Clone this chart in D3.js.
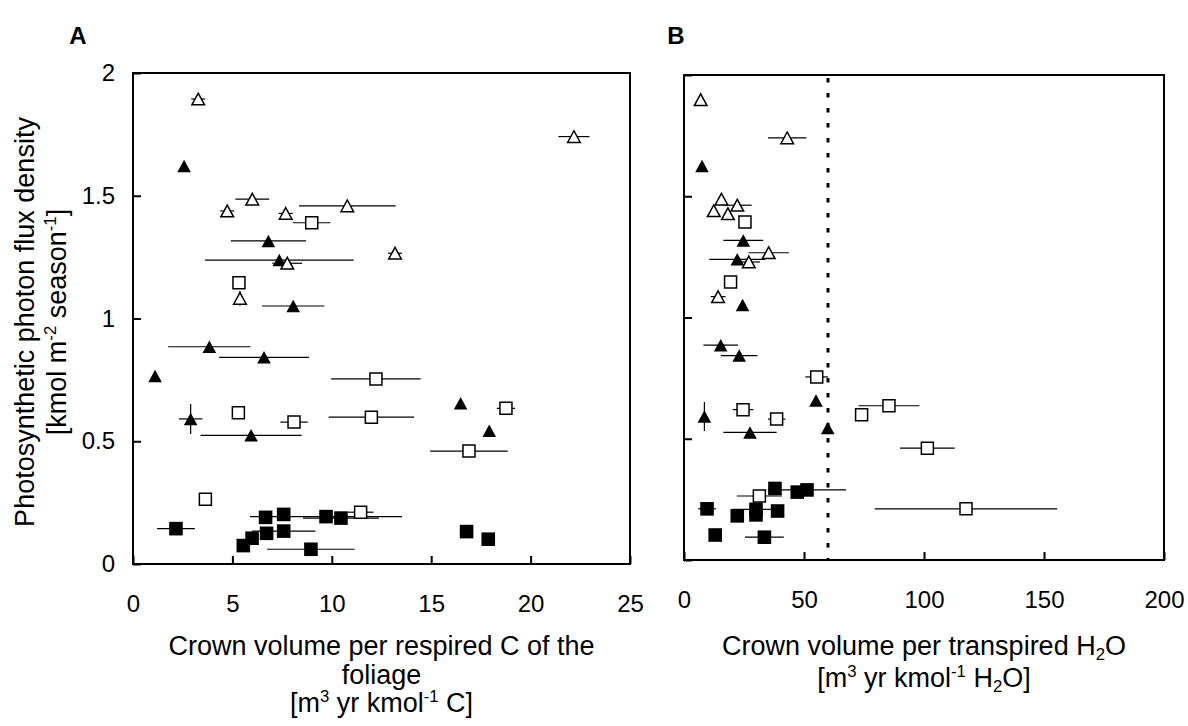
<!DOCTYPE html>
<html>
<head>
<meta charset="utf-8">
<script src="https://cdn.jsdelivr.net/npm/d3@7"></script>
<style>
  body { margin: 0; background: #fff; }
  svg { display: block; font-family: Arial, "Liberation Sans", sans-serif; }
</style>
</head>
<body>
<svg id="chart" width="1188" height="726"></svg>
<script>
// values: [x, xError, y, yError]
const aOpenTriangles = [
  [3.28, 0.35, 1.894, 0], [6.00, 0.85, 1.486, 0], [4.74, 0.35, 1.438, 0],
  [7.68, 0.35, 1.428, 0], [10.78, 2.43, 1.459, 0], [7.76, 0.75, 1.225, 0],
  [13.18, 0.35, 1.266, 0], [5.38, 0, 1.082, 0.03], [22.18, 0.78, 1.741, 0]
];
const aFilledTriangles = [
  [2.57, 0, 1.621, 0], [6.81, 1.89, 1.316, 0], [7.36, 3.74, 1.238, 0],
  [8.06, 1.57, 1.051, 0], [3.84, 2.07, 0.885, 0], [6.59, 2.26, 0.842, 0],
  [1.11, 0, 0.766, 0], [2.90, 0.59, 0.591, 0.061], [5.94, 2.54, 0.524, 0],
  [16.48, 0, 0.655, 0], [17.92, 0, 0.543, 0]
];
const aOpenSquares = [
  [8.99, 0.94, 1.390, 0], [5.33, 0, 1.146, 0], [12.22, 2.25, 0.754, 0],
  [5.30, 0, 0.616, 0], [8.10, 0.69, 0.578, 0], [11.99, 2.15, 0.598, 0],
  [3.64, 0, 0.264, 0], [11.45, 0.65, 0.211, 0], [18.76, 0.46, 0.634, 0],
  [16.90, 1.95, 0.460, 0]
];
const aFilledSquares = [
  [2.16, 0.95, 0.144, 0], [6.67, 0, 0.190, 0], [7.58, 0, 0.202, 0],
  [9.71, 3.82, 0.193, 0], [10.46, 1.91, 0.187, 0], [6.72, 0, 0.125, 0],
  [5.99, 0, 0.105, 0], [5.55, 0, 0.075, 0], [7.58, 1.6, 0.134, 0],
  [8.95, 2.2, 0.060, 0], [16.78, 0, 0.132, 0], [17.87, 0, 0.101, 0]
];

const bOpenTriangles = [
  [6.94, 0, 1.898, 0], [43.0, 8.0, 1.741, 0], [15.6, 0, 1.488, 0],
  [12.4, 0, 1.440, 0], [22.2, 6.0, 1.463, 0], [18.3, 0, 1.428, 0],
  [35.3, 8.4, 1.267, 0], [27.0, 4.7, 1.229, 0], [14.2, 3.1, 1.086, 0]
];
const bFilledTriangles = [
  [7.5, 0, 1.625, 0], [24.7, 8.3, 1.318, 0], [22.2, 11.7, 1.240, 0],
  [24.4, 0, 1.052, 0], [15.3, 7.2, 0.886, 0], [23.0, 7.6, 0.843, 0],
  [55.0, 0, 0.658, 0], [8.5, 0, 0.592, 0.06], [27.5, 11.1, 0.526, 0],
  [59.9, 0, 0.544, 0]
];
const bOpenSquares = [
  [25.4, 0, 1.394, 0], [19.4, 0, 1.146, 0], [55.3, 4.7, 0.755, 0],
  [24.6, 4.3, 0.620, 0], [38.6, 3.6, 0.581, 0], [74.0, 0, 0.599, 0],
  [85.4, 12.7, 0.636, 0], [101.4, 11.4, 0.461, 0], [117.5, 38, 0.211, 0],
  [31.4, 9.4, 0.264, 0]
];
const bFilledSquares = [
  [37.9, 0, 0.295, 0], [47.2, 0, 0.280, 0], [51.25, 16.3, 0.289, 0],
  [9.6, 3.7, 0.211, 0], [22.2, 0, 0.182, 0], [30.0, 10, 0.209, 0],
  [30.0, 0, 0.186, 0], [39.0, 0, 0.202, 0], [13.0, 0, 0.103, 0],
  [33.5, 8.1, 0.094, 0]
];

const yTicks = [0, 0.5, 1, 1.5, 2];
const aXTicks = [0, 5, 10, 15, 20, 25];
const bXTicks = [0, 50, 100, 150, 200];
const bThreshold = 60;

const svg = d3.select("#chart");

// triangle centred on its bounding box (like the spreadsheet marker)
const boxTriangle = {
  draw(ctx, size) {
    const hw = Math.sqrt(size) / 2, hh = hw * 0.92;
    ctx.moveTo(0, -hh);
    ctx.lineTo(hw, hh);
    ctx.lineTo(-hw, hh);
    ctx.closePath();
  }
};

// text with superscripts / subscripts; each run carries its own baseline offset
function richText(sel, parts, size) {
  let current = 0;
  parts.forEach((p) => {
    const shift = p.sup ? -0.36 * size : p.sub ? 0.2 * size : 0;
    const span = sel.append("tspan").attr("dy", shift - current).text(p.t);
    span.attr("font-size", p.sup || p.sub ? size * 0.62 : size);
    current = shift;
  });
}

const panels = [
  {
    name: "A", xDomain: [0, 25], xTicks: aXTicks, yLabels: true,
    box: { left: 133, right: 630, top: 73, bottom: 564 },
    series: [aOpenSquares, aFilledSquares, aFilledTriangles, aOpenTriangles],
    titleBaselines: [655, 684, 712],
    title: [
      [{ t: "Crown volume per respired C of the" }],
      [{ t: "foliage" }],
      [{ t: "[m" }, { t: "3", sup: true }, { t: " yr kmol" }, { t: "-1", sup: true }, { t: " C]" }]
    ]
  },
  {
    name: "B", xDomain: [0, 200], xTicks: bXTicks, yLabels: false, threshold: bThreshold,
    box: { left: 684, right: 1164, top: 75, bottom: 560 },
    series: [bOpenSquares, bFilledSquares, bFilledTriangles, bOpenTriangles],
    titleBaselines: [655, 687],
    title: [
      [{ t: "Crown volume per transpired H" }, { t: "2", sub: true }, { t: "O" }],
      [{ t: "[m" }, { t: "3", sup: true }, { t: " yr kmol" }, { t: "-1", sup: true }, { t: " H" }, { t: "2", sub: true }, { t: "O]" }]
    ]
  }
];

// marker style per series, same order as panel.series
const seriesStyle = [
  { type: d3.symbolSquare, size: 144, fill: "#fff" },
  { type: d3.symbolSquare, size: 185, fill: "#000" },
  { type: boxTriangle, size: 185, fill: "#000" },
  { type: boxTriangle, size: 160, fill: "#fff" }
];

const titleSize = 27;

panels.forEach((p) => {
  const x = d3.scaleLinear().domain(p.xDomain).range([p.box.left, p.box.right]);
  const y = d3.scaleLinear().domain([0, 2]).range([p.box.bottom, p.box.top]);
  const g = svg.append("g");

  const yAxis = d3.axisLeft(y).tickValues(yTicks).tickSizeInner(-8).tickSizeOuter(0).tickPadding(18)
    .tickFormat(p.yLabels ? d3.format("") : "");
  const yG = g.append("g").attr("transform", `translate(${p.box.left},0)`).call(yAxis);

  const xAxis = d3.axisBottom(x).tickValues(p.xTicks).tickSizeInner(-8).tickSizeOuter(0).tickPadding(31);
  const xG = g.append("g").attr("transform", `translate(0,${p.box.bottom})`).call(xAxis);

  [yG, xG].forEach((ax) => {
    ax.select(".domain").remove();
    ax.selectAll(".tick line").attr("stroke", "#000").attr("stroke-width", 2);
    ax.selectAll(".tick text").attr("fill", "#000").attr("font-size", 24)
      .attr("font-family", "Arial, 'Liberation Sans', sans-serif");
  });
  if (!p.yLabels) yG.selectAll(".tick text").remove();

  g.append("rect")
    .attr("x", p.box.left).attr("y", p.box.top)
    .attr("width", p.box.right - p.box.left).attr("height", p.box.bottom - p.box.top)
    .attr("fill", "none").attr("stroke", "#000").attr("stroke-width", 2);

  if (p.threshold != null) {
    g.append("line")
      .attr("x1", x(p.threshold)).attr("x2", x(p.threshold))
      .attr("y1", p.box.top + 3).attr("y2", p.box.bottom)
      .attr("stroke", "#000").attr("stroke-width", 3).attr("stroke-dasharray", "4.5,10.5");
  }

  // error bars underneath the markers
  const bars = g.append("g").attr("stroke", "#000").attr("stroke-width", 1.2);
  p.series.forEach((rows) => {
    rows.filter((r) => r[1] > 0).forEach((r) => {
      bars.append("line").attr("x1", x(r[0] - r[1])).attr("x2", x(r[0] + r[1]))
        .attr("y1", y(r[2])).attr("y2", y(r[2]));
    });
    rows.filter((r) => r[3] > 0).forEach((r) => {
      bars.append("line").attr("x1", x(r[0])).attr("x2", x(r[0]))
        .attr("y1", y(r[2] - r[3])).attr("y2", y(r[2] + r[3]));
    });
  });

  p.series.forEach((rows, i) => {
    const st = seriesStyle[i];
    g.append("g").selectAll("path").data(rows).join("path")
      .attr("transform", (r) => `translate(${x(r[0])},${y(r[2])})`)
      .attr("d", d3.symbol().type(st.type).size(st.size))
      .attr("fill", st.fill)
      .attr("stroke", "#000")
      .attr("stroke-width", st.fill === "#000" ? 0 : 1.5);
  });

  // panel letter
  svg.append("text")
    .attr("x", p.name === "A" ? 78 : 676).attr("y", 44)
    .attr("text-anchor", "middle").attr("font-size", 24).attr("font-weight", "bold")
    .text(p.name);

  // x-axis title, centred under the panel
  const cx = (p.box.left + p.box.right) / 2;
  p.title.forEach((line, i) => {
    const t = svg.append("text").attr("x", cx).attr("y", p.titleBaselines[i])
      .attr("text-anchor", "middle").attr("font-size", titleSize);
    richText(t, line, titleSize);
  });
});

// y-axis title (panel A only)
const yTitle = [
  [{ t: "Photosynthetic photon flux density" }],
  [{ t: "[kmol m" }, { t: "-2", sup: true }, { t: " season" }, { t: "-1", sup: true }, { t: "]" }]
];
[34, 66].forEach((bx, i) => {
  const t = svg.append("text")
    .attr("transform", `translate(${bx},${322}) rotate(-90)`)
    .attr("text-anchor", "middle").attr("font-size", titleSize);
  richText(t, yTitle[i], titleSize);
});
</script>
</body>
</html>
